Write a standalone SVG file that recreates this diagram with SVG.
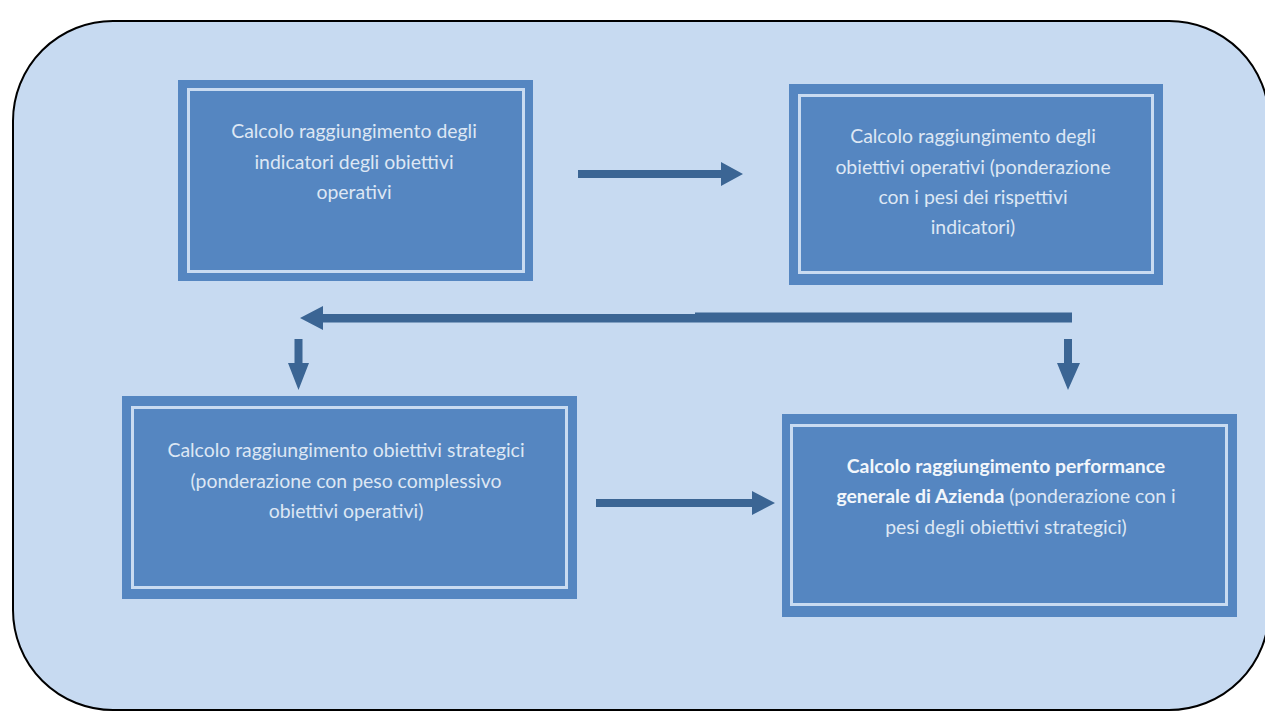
<svg xmlns="http://www.w3.org/2000/svg" width="1265" height="725" viewBox="0 0 1265 725">
<style>
.outer{fill:#5586c1}
.inner{fill:none;stroke:#c9dbf1;stroke-width:3}
.t{font-family:Lato,"Open Sans","Liberation Sans",sans-serif;font-size:19.4px;fill:#dde7f4;text-anchor:middle}
.b{font-weight:bold;fill:#f2f6fb}
.arr{fill:#3b6594}
</style>
<rect width="1265" height="725" fill="#ffffff"/>
<rect id="background" x="13" y="21" width="1256" height="689" rx="100" ry="100" fill="#c7daf1" stroke="#000" stroke-width="2"/>
<g id="node1">
<rect class="outer" x="178" y="80" width="355" height="201"/>
<rect class="inner" x="188.5" y="89.5" width="335" height="182"/>
<text class="t" x="354" y="138">Calcolo raggiungimento degli</text>
<text class="t" x="354" y="168.5">indicatori degli obiettivi</text>
<text class="t" x="354" y="199">operativi</text>
</g>
<g id="node2">
<rect class="outer" x="789" y="84" width="374" height="201"/>
<rect class="inner" x="799.5" y="95.5" width="353" height="177"/>
<text class="t" x="973" y="143">Calcolo raggiungimento degli</text>
<text class="t" x="973" y="173.5">obiettivi operativi (ponderazione</text>
<text class="t" x="973" y="203.5">con i pesi dei rispettivi</text>
<text class="t" x="973" y="234">indicatori)</text>
</g>
<g id="node3">
<rect class="outer" x="122" y="396" width="455" height="203"/>
<rect class="inner" x="132.5" y="407.5" width="434" height="180"/>
<text class="t" x="346" y="457">Calcolo raggiungimento obiettivi strategici</text>
<text class="t" x="346" y="487.5">(ponderazione con peso complessivo</text>
<text class="t" x="346" y="518">obiettivi operativi)</text>
</g>
<g id="node4">
<rect class="outer" x="782" y="414" width="455" height="203"/>
<rect class="inner" x="791.5" y="425.5" width="435" height="179"/>
<text class="t b" x="1006" y="473">Calcolo raggiungimento performance</text>
<text class="t" x="1006" y="503"><tspan class="b">generale di Azienda</tspan> (ponderazione con i</text>
<text class="t" x="1006" y="533.5">pesi degli obiettivi strategici)</text>
</g>
<g id="connectors">
<polygon class="arr" points="578,170 721,170 721,162 743,174 721,186 721,178 578,178"/>
<polygon class="arr" points="596,499 752,499 752,491 775,503 752,515 752,507 596,507"/>
<polygon class="arr" points="1072,312.5 1072,322.5 323,322.5 323,330 300,318 323,306 323,314 695,314 695,312.5"/>
<polygon class="arr" points="294.5,339 302.5,339 302.5,363 309,363 298.5,390 288,363 294.5,363"/>
<polygon class="arr" points="1064,339 1072,339 1072,363 1080,363 1068,390 1057,363 1064,363"/>
</g>
</svg>
